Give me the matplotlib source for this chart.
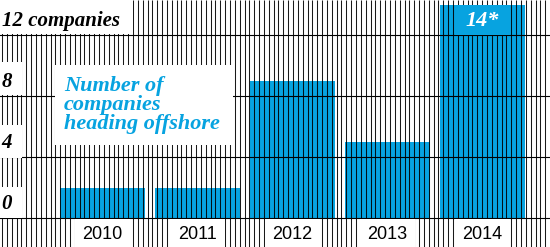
import numpy as np
import matplotlib.pyplot as plt
from matplotlib.patches import Rectangle
from matplotlib.transforms import blended_transform_factory

## the data
years = ['2010', '2011', '2012', '2013', '2014']
counts = [2, 2, 9, 5, 14]
ticks = [0, 4, 8, 12]
tick_labels = ['0', '4', '8', '12 companies']
last_label = '14*'
title = 'Number of\ncompanies\nheading offshore'

blue = '#07a3e0'
serif = ['Liberation Serif', 'DejaVu Serif']

W, H = 550, 247
fig = plt.figure(figsize=(W / 100, H / 100), dpi=100)
ax = fig.add_axes([0, 0, 1, 1])
ax.set_axis_off()

ind = np.arange(len(counts))
width = 0.895
ax.set_xlim(-1.08, 4.71)
ax.set_ylim(-1.90, 14.30)

# bars
ax.bar(ind, counts, width, color=blue, zorder=1)

# vertical hatching over everything
xs = np.arange(2, W, 4.85) / W
ax.vlines(xs, 0, 1, transform=ax.transAxes, color='black', lw=0.75,
          alpha=0.9, zorder=2)

# horizontal rules
for t in ticks:
    ax.axhline(t, color='black', lw=0.8, zorder=2.5)


def px_box(x0, y0, x1, y1, color='white'):
    # pixel box (from top-left) -> axes fraction
    ax.add_patch(Rectangle((x0 / W, 1 - y1 / H), (x1 - x0) / W, (y1 - y0) / H,
                           transform=ax.transAxes, facecolor=color,
                           edgecolor='none', zorder=3))


# y labels
px_box(0, 0, 133, 34.5)
px_box(0, 62, 22, 95)
px_box(0, 125, 22, 157.5)
px_box(0, 187, 22, 218)
yt = blended_transform_factory(ax.transAxes, ax.transData)
for t, lab in zip(ticks, tick_labels):
    ax.text(0.003, t + 0.6, lab, transform=yt, family=serif, style='italic',
            weight='bold', fontsize=15, ha='left', va='baseline', zorder=4)

# title box
px_box(55, 65, 233, 145)
ax.text(64 / W, 1 - 76 / H, title, transform=ax.transAxes, family=serif,
        style='italic', weight='bold', fontsize=16, color=blue,
        ha='left', va='top', linespacing=0.95, zorder=4)

# year labels
bt = blended_transform_factory(ax.transData, ax.transAxes)
for i, y in enumerate(years):
    ax.add_patch(Rectangle((i - 0.29, 0), 0.58, 28 / H, transform=bt,
                           facecolor='white', edgecolor='none', zorder=3))
    ax.text(i, 4 / H, y, transform=bt, family=['Liberation Sans', 'DejaVu Sans'],
            fontsize=13, ha='center', va='bottom', zorder=4)

# 14* box on last bar
ax.add_patch(Rectangle((ind[-1] - 0.285, 12), 0.57, counts[-1] - 12,
                       facecolor=blue, edgecolor='none', zorder=3))
ax.text(ind[-1], 12.95, last_label, family=serif, style='italic', weight='bold',
        fontsize=16, color='white', ha='center', va='center', zorder=4)

fig.savefig('out.png', dpi=100)
